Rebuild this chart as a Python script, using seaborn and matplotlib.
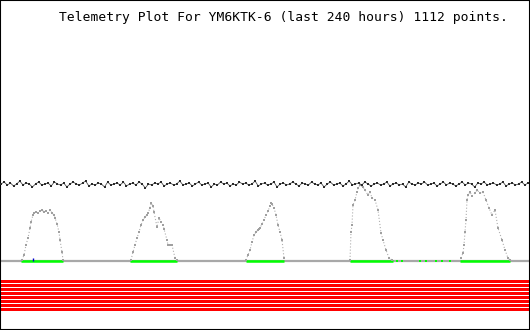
import numpy as np
import pandas as pd
import matplotlib
matplotlib.use("Agg")
import matplotlib.pyplot as plt
import seaborn as sns

sns.set_style("white")

title = "Telemetry Plot For YM6KTK-6 (last 240 hours) 1112 points."

# Noisy upper telemetry channel (plot units)
noise = [146,148,145,147,144,146,149,145,147,146,143,146,148,145,146,147,144,148,146,145,
         147,143,146,148,146,145,147,149,144,146,145,147,146,143,148,145,146,147,145,148,
         144,146,147,145,148,146,142,146,145,147,146,148,144,146,147,145,146,149,145,146,
         147,144,146,148,145,146,147,143,146,145,148,146,147,144,146,145,148,146,147,145,
         146,149,144,146,147,145,146,148,143,146,147,145,146,148,146,144,147,146,145,148,
         146,145,147,143,146,148,145,146,147,144,146,149,145,146,147,145,148,146,144,146,
         147,145,146,148,144,146,147,145,146,143,148,146,145,147,146,148,145,146,147,144,
         146,148,145,147,146,144,146,148,145,147,146,143,147,146,148,145,146,147,145,146,
         148,144,146,147,145,146,148,145,147]

# Daily humps (solar channel): time positions and values
hump_t = [
    [22,24,26,28,30,31,33,34,36,38,40,42,44,46,48,50,52,54,55,57,59,60,62,63],
    [131,133,135,137,139,141,143,145,147,148,150,151,153,154,157,159,161,163,164,167,168,170,172,175,177],
    [246,248,250,252,254,256,258,259,260,262,264,266,268,270,271,272,274,276,278,280,282,284],
    [350,351,352,353,355,357,358,360,363,365,368,370,372,375,378,381,383,386,389,392],
    [461,463,464,465,466,467,468,470,472,475,477,480,483,486,489,492,495,498,502,505,508,510],
]
hump_v = [
    [70,75,85,92,102,108,115,117,118,117,119,120,118,119,117,120,117,115,112,106,98,90,78,70],
    [70,78,85,92,98,105,110,113,115,117,122,127,124,118,103,112,108,105,101,90,85,85,85,72,70],
    [70,75,80,88,95,98,100,101,102,106,110,115,119,124,127,126,122,115,105,98,90,72],
    [70,98,105,125,130,138,142,145,143,140,135,138,132,130,120,97,90,80,72,70],
    [72,77,85,98,110,130,135,138,134,137,140,137,138,130,122,115,120,102,90,80,72,70],
]

# green (sun-on) segments along the baseline
green_start = [21, 130, 246, 350, 460]
green_end = [63, 177, 284, 393, 510]
green_dots = [397, 402, 420, 426, 436, 442, 450]

# red status bands
n_bands = 8

fig = plt.figure(figsize=(5.3, 3.3), dpi=100)
ax = fig.add_axes([0, 0, 1, 1])
ax.set_xlim(0, 530)
ax.set_ylim(0, 330)

# red bands
band_bottoms = [19 + 4 * i for i in range(n_bands)]
ax.barh(y=band_bottoms, width=528, left=1, height=3, align="edge",
        color="#ff0000", linewidth=0)

# baseline
ax.hlines(69.5, 0, 530, color="#a8a8a8", linewidth=1.6, zorder=2)
ax.hlines([69.5] * len(green_start), green_start, green_end,
          color="#00ff00", linewidth=1.8, zorder=3)
ax.scatter(green_dots, [69.5] * len(green_dots), marker="s", s=2.5,
           color="#00ff00", linewidth=0, zorder=3)
ax.vlines(33, 69, 72, color="#0000cc", linewidth=1.0, zorder=4)

# humps
rows = []
for k, (tt, vv) in enumerate(zip(hump_t, hump_v)):
    for a, b in zip(tt, vv):
        rows.append({"t": a, "v": b, "day": k})
hdf = pd.DataFrame(rows)
for k, g in hdf.groupby("day"):
    ax.plot(g["t"], g["v"], linestyle=(0, (1, 1.8)), color="#b0b0b0",
            linewidth=0.8, zorder=2)
sns.scatterplot(data=hdf, x="t", y="v", marker="s", s=2.2, color="#a0a0a0",
                linewidth=0, ax=ax, legend=False, zorder=3)

# noise line
ndf = pd.DataFrame({"t": np.linspace(1, 528, len(noise)), "v": noise})
sns.lineplot(data=ndf, x="t", y="v", color="#505050", linewidth=0.6, ax=ax, zorder=4)
sns.scatterplot(data=ndf, x="t", y="v", marker="s", s=3.2, color="#2a2a2a",
                linewidth=0, ax=ax, legend=False, zorder=5)

ax.text(59, 313, title, family="DejaVu Sans Mono", fontsize=9.4,
        ha="left", va="center", color="black")

ax.set_xticks([])
ax.set_yticks([])
ax.set_xlabel("")
ax.set_ylabel("")
for s in ax.spines.values():
    s.set_visible(True)
    s.set_color("black")
    s.set_linewidth(1.5)

fig.savefig("out.png", dpi=100)
